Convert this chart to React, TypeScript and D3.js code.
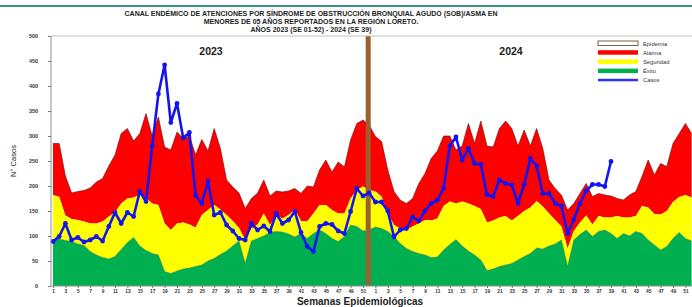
import React, { useRef, useEffect } from 'react';
import * as d3 from 'd3';

// Semanas epidemiológicas
const semanas = [
  1, 2, 3, 4, 5, 6, 7, 8, 9, 10, 11, 12, 13, 14, 15, 16, 17, 18, 19, 20, 21, 22, 23, 24, 25, 26,
  27, 28, 29, 30, 31, 32, 33, 34, 35, 36, 37, 38, 39, 40, 41, 42, 43, 44, 45, 46, 47, 48, 49, 50, 51, 52,
];

// 2023
const exito2023 = [
  91, 94, 91, 89, 84, 81, 69, 62, 57, 54, 59, 73, 87, 97, 80, 71, 65, 62, 29, 25, 30, 34, 36, 39, 42, 50,
  55, 63, 70, 80, 90, 45, 90, 95, 100, 107, 109, 108, 104, 98, 105, 95, 105, 112, 105, 95, 89, 99, 122, 119, 110, 112,
];
const seguridad2023 = [
  182, 178, 141, 134, 132, 129, 125, 125, 129, 139, 147, 165, 175, 177, 182, 176, 165, 162, 125, 112, 125, 127, 123, 117, 142, 152,
  162, 153, 142, 130, 116, 92, 115, 123, 145, 122, 142, 135, 142, 153, 130, 129, 145, 162, 162, 152, 145, 145, 175, 192, 199, 192,
];
const alarma2023 = [
  285, 285, 220, 186, 189, 191, 196, 208, 215, 240, 262, 305, 315, 290, 305, 345, 300, 338, 278, 272, 308, 295, 300, 262, 293, 270,
  315, 275, 212, 198, 186, 155, 175, 186, 212, 180, 190, 188, 190, 195, 185, 200, 198, 232, 252, 228, 248, 238, 292, 325, 332, 322,
];
const casos2023 = [
  89, 99, 125, 92, 97, 88, 92, 99, 90, 119, 147, 125, 147, 139, 189, 169, 280, 384, 442, 327, 365, 296, 307, 181, 165, 210,
  142, 147, 122, 110, 95, 92, 125, 112, 120, 109, 145, 125, 132, 149, 107, 79, 69, 119, 125, 123, 110, 105, 149, 195, 180, 186,
];

// 2024
const exito2024 = [
  118, 115, 109, 99, 85, 75, 69, 65, 62, 57, 58, 72, 83, 93, 80, 70, 62, 52, 31, 34, 39, 42, 45, 52, 59, 65,
  76, 74, 80, 84, 92, 39, 92, 103, 112, 99, 109, 112, 105, 95, 105, 100, 109, 105, 92, 82, 72, 79, 95, 107, 95, 90,
];
const seguridad2024 = [
  189, 179, 145, 122, 115, 112, 119, 125, 132, 131, 135, 160, 169, 165, 169, 165, 160, 154, 127, 131, 137, 140, 131, 140, 150, 157,
  170, 159, 145, 132, 119, 75, 110, 127, 141, 123, 140, 137, 137, 140, 137, 137, 140, 160, 157, 144, 143, 150, 168, 178, 182, 177,
];
const alarma2024 = [
  299, 289, 232, 189, 172, 165, 175, 205, 225, 255, 270, 300, 300, 272, 280, 325, 285, 330, 280, 278, 315, 330, 315, 280, 312, 280,
  315, 275, 212, 195, 182, 152, 165, 185, 205, 179, 185, 182, 180, 175, 172, 182, 189, 219, 252, 222, 245, 239, 285, 305, 325, 305,
];
const casos2024 = [
  168, 168, 150, 98, 112, 115, 138, 130, 150, 165, 172, 195, 280, 298, 252, 275, 245, 243, 183, 179, 212, 205, 202, 165, 203, 255,
  240, 185, 185, 165, 160, 105, 133, 165, 190, 203, 203, 199, 249,
];

const yTicks = [0, 50, 100, 150, 200, 250, 300, 350, 400, 450, 500];

const tituloLineas = [
  'CANAL ENDÉMICO DE ATENCIONES POR SÍNDROME DE OBSTRUCCIÓN BRONQUIAL AGUDO (SOB)/ASMA EN',
  'MENORES DE 05 AÑOS REPORTADOS EN LA REGIÓN LORETO.',
  'AÑOS 2023 (SE 01-52) - 2024 (SE 39)',
];

const leyenda = [
  { label: 'Epidemia', fill: '#ffffff', stroke: '#5a3a1a' },
  { label: 'Alarma', fill: '#ff0000', stroke: 'none' },
  { label: 'Seguridad', fill: '#ffff00', stroke: 'none' },
  { label: 'Éxito', fill: '#00b050', stroke: 'none' },
  { label: 'Casos', fill: '#3030ff', stroke: 'none' },
];

const W = 692;
const H = 307;

const App: React.FC = () => {
  const svgRef = useRef<SVGSVGElement | null>(null);

  useEffect(() => {
    const svg = d3.select(svgRef.current);
    svg.selectAll('*').remove();

    const exito = [...exito2023, ...exito2024];
    const seguridad = [...seguridad2023, ...seguridad2024];
    const alarma = [...alarma2023, ...alarma2024];
    const casos = [...casos2023, ...casos2024];
    const etiquetas = [...semanas, ...semanas];
    const n = etiquetas.length;

    const plot = { left: 51, top: 36, right: 692, bottom: 286 };

    const x = d3.scaleLinear().domain([0, n - 1]).range([53, 691.6]);
    const y = d3.scaleLinear().domain([0, 500]).range([plot.bottom, plot.top]);

    const font = 'Liberation Sans, Arial, sans-serif';

    // top rule
    svg.append('line')
      .attr('x1', 0).attr('x2', W).attr('y1', 6).attr('y2', 6)
      .attr('stroke', '#3f8f80').attr('stroke-width', 2);

    // title
    svg.append('g')
      .selectAll('text')
      .data(tituloLineas)
      .enter()
      .append('text')
      .attr('x', 311)
      .attr('y', (_d, i) => 16 + i * 8)
      .attr('text-anchor', 'middle')
      .attr('font-family', font)
      .attr('font-weight', 'bold')
      .attr('font-size', 7)
      .attr('fill', '#222')
      .text((d) => d);

    const g = svg.append('g');

    const idx = d3.range(n);

    const areaVerde = d3.area<number>()
      .x((i) => x(i))
      .y0(y(0))
      .y1((i) => y(exito[i]));
    const areaAmarilla = d3.area<number>()
      .x((i) => x(i))
      .y0((i) => y(exito[i]))
      .y1((i) => y(seguridad[i]));
    const areaRoja = d3.area<number>()
      .x((i) => x(i))
      .y0((i) => y(seguridad[i]))
      .y1((i) => y(alarma[i]));

    g.append('path').attr('d', areaRoja(idx)!).attr('fill', '#ff0000');
    g.append('path').attr('d', areaAmarilla(idx)!).attr('fill', '#ffff00');
    g.append('path').attr('d', areaVerde(idx)!).attr('fill', '#00b050');

    // dark edges on top of areas
    const linea = (arr: number[]) =>
      d3.line<number>().x((i) => x(i)).y((i) => y(arr[i]))(idx)!;
    g.append('path').attr('d', linea(alarma)).attr('fill', 'none')
      .attr('stroke', '#6a1010').attr('stroke-width', 0.8).attr('opacity', 0.8);
    g.append('path').attr('d', linea(exito)).attr('fill', 'none')
      .attr('stroke', '#2c6a2c').attr('stroke-width', 0.6).attr('opacity', 0.7);

    // separator bar between years (at week 52 of 2023)
    g.append('rect')
      .attr('x', x(semanas.length - 1) - 3.5)
      .attr('y', plot.top)
      .attr('width', 5)
      .attr('height', plot.bottom - plot.top)
      .attr('fill', '#9a6130');

    // axes frame
    svg.append('line')
      .attr('x1', plot.left).attr('x2', plot.right).attr('y1', plot.top).attr('y2', plot.top)
      .attr('stroke', '#b0b0b0').attr('stroke-width', 0.8);
    svg.append('line')
      .attr('x1', plot.left).attr('x2', plot.left).attr('y1', plot.top).attr('y2', plot.bottom)
      .attr('stroke', '#909090').attr('stroke-width', 1);
    svg.append('line')
      .attr('x1', plot.left).attr('x2', plot.right).attr('y1', plot.bottom).attr('y2', plot.bottom)
      .attr('stroke', '#909090').attr('stroke-width', 1);

    // y axis
    const yAxis = svg.append('g')
      .attr('transform', `translate(${plot.left},0)`)
      .call(d3.axisLeft(y).tickValues(yTicks).tickSize(3).tickPadding(10));
    yAxis.select('.domain').remove();
    yAxis.selectAll('.tick line').attr('stroke', '#777');
    yAxis.selectAll('.tick text')
      .attr('font-family', font)
      .attr('font-weight', 'bold')
      .attr('font-size', 5.4)
      .attr('fill', '#333');

    // x axis ticks (odd weeks)
    const xAxis = svg.append('g')
      .attr('transform', `translate(0,${plot.bottom})`)
      .call(
        d3.axisBottom(x)
          .tickValues(idx.filter((i) => etiquetas[i] % 2 === 1))
          .tickFormat((d) => String(etiquetas[d as number]))
          .tickSize(2)
          .tickPadding(2)
      );
    xAxis.select('.domain').remove();
    xAxis.selectAll('.tick line').attr('stroke', '#777');
    xAxis.selectAll('.tick text')
      .attr('font-family', font)
      .attr('font-weight', 'bold')
      .attr('font-size', 4.8)
      .attr('fill', '#333');

    // cases line
    const casosIdx = d3.range(casos.length);
    const lineaCasos = d3.line<number>().x((i) => x(i)).y((i) => y(casos[i]));
    g.append('path')
      .attr('d', lineaCasos(casosIdx)!)
      .attr('fill', 'none')
      .attr('stroke', '#1414f0')
      .attr('stroke-width', 2.6)
      .attr('stroke-linejoin', 'round');
    g.selectAll('.pt')
      .data(casosIdx)
      .enter()
      .append('circle')
      .attr('class', 'pt')
      .attr('cx', (i) => x(i))
      .attr('cy', (i) => y(casos[i]))
      .attr('r', 2.4)
      .attr('fill', '#1414f0');

    // year labels
    svg.append('text')
      .attr('x', 211).attr('y', 55)
      .attr('text-anchor', 'middle')
      .attr('font-family', font).attr('font-weight', 'bold').attr('font-size', 10.5)
      .attr('fill', '#222')
      .text('2023');
    svg.append('text')
      .attr('x', 511).attr('y', 55)
      .attr('text-anchor', 'middle')
      .attr('font-family', font).attr('font-weight', 'bold').attr('font-size', 10.5)
      .attr('fill', '#222')
      .text('2024');

    // axis titles
    svg.append('text')
      .attr('transform', 'translate(16,161) rotate(-90)')
      .attr('text-anchor', 'middle')
      .attr('font-family', font).attr('font-size', 7.5)
      .attr('fill', '#222')
      .text('N° Casos');
    svg.append('text')
      .attr('x', 360).attr('y', 305)
      .attr('text-anchor', 'middle')
      .attr('font-family', font).attr('font-weight', 'bold').attr('font-size', 10)
      .attr('fill', '#222')
      .text('Semanas Epidemiológicas');

    // legend
    const lg = svg.append('g').attr('transform', 'translate(598,41)');
    leyenda.forEach((item, i) => {
      const row = lg.append('g').attr('transform', `translate(0,${i * 9.2})`);
      if (item.label === 'Casos') {
        row.append('rect').attr('x', 0).attr('y', 1).attr('width', 40).attr('height', 2.5)
          .attr('fill', item.fill);
      } else {
        row.append('rect').attr('x', 0).attr('y', 0).attr('width', 40).attr('height', 4.5)
          .attr('fill', item.fill)
          .attr('stroke', item.stroke)
          .attr('stroke-width', item.stroke === 'none' ? 0 : 0.8);
      }
      row.append('text')
        .attr('x', 45).attr('y', 4.5)
        .attr('font-family', font).attr('font-size', 5.8)
        .attr('fill', '#333')
        .text(item.label);
    });
  }, []);

  return (
    <svg
      ref={svgRef}
      width={W}
      height={H}
      style={{ position: 'absolute', left: 0, top: 0, background: '#fff' }}
    />
  );
};

export default App;
